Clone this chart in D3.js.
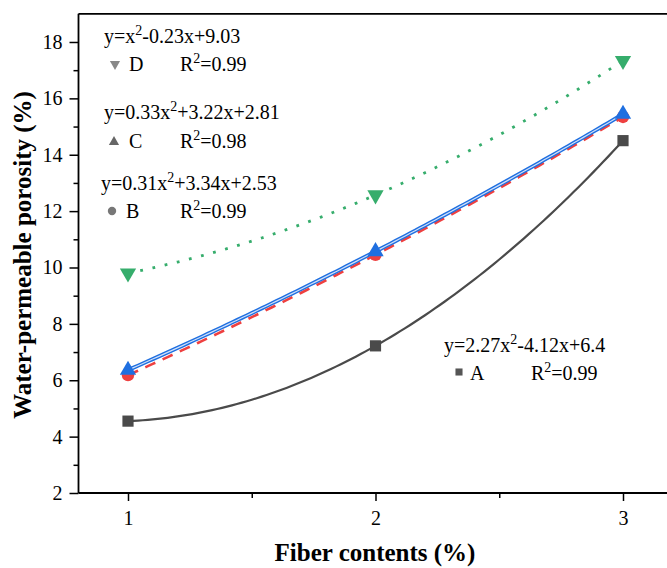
<!DOCTYPE html>
<html><head><meta charset="utf-8">
<script src="https://cdn.jsdelivr.net/npm/d3@7"></script>
<style>body{margin:0;background:#fff}svg{display:block}text{font-family:"Liberation Serif","Times New Roman",serif;fill:#000}</style>
</head><body><svg id="c" width="667" height="568"></svg>
<script>
const fiber = [1, 2, 3];
const seriesA = [4.55, 7.22, 14.5];
const seriesB = [6.18, 10.45, 15.34];
const seriesC = [6.36, 10.57, 15.44];
const seriesD = [9.8, 12.57, 17.34];
const xTicks = [1, 2, 3];
const yTicks = [2, 4, 6, 8, 10, 12, 14, 16, 18];
const legendNames = ["A", "B", "C", "D"];
const equations = [
  ["y=2.27x", "-4.12x+6.4"],
  ["y=0.31x", "+3.34x+2.53"],
  ["y=0.33x", "+3.22x+2.81"],
  ["y=x", "-0.23x+9.03"]
];
const r2 = ["0.99", "0.99", "0.98", "0.99"];

const FONT = '"Liberation Serif","Times New Roman",serif';
const svg = d3.select("#c");
const x = d3.scaleLinear().domain([0.8, 3.2]).range([78.5, 672.5]);
const y = d3.scaleLinear().domain([2, 19]).range([493, 13.8]);

// frame top line
svg.append("line").attr("x1", x(0.8)).attr("x2", x(3.2)).attr("y1", y(19)).attr("y2", y(19))
  .attr("stroke", "#000").attr("stroke-width", 1.8);

// axes
const xAxis = svg.append("g").attr("transform", `translate(0,${y(2)})`)
  .call(d3.axisBottom(x).tickValues(xTicks).tickFormat(d3.format("d")).tickSize(8).tickPadding(10));
svg.append("g").attr("transform", `translate(0,${y(2)})`)
  .call(d3.axisBottom(x).tickValues([1.5, 2.5]).tickFormat("").tickSize(5)).select(".domain").remove();
const yAxis = svg.append("g").attr("transform", `translate(${x(0.8)},0)`)
  .call(d3.axisLeft(y).tickValues(yTicks).tickFormat(d3.format("d")).tickSize(9).tickPadding(7));
svg.append("g").attr("transform", `translate(${x(0.8)},0)`)
  .call(d3.axisLeft(y).tickValues(d3.range(3, 19, 2)).tickFormat("").tickSize(5)).select(".domain").remove();
[xAxis, yAxis].forEach(a => a.attr("font-family", FONT).attr("font-size", 20));
xAxis.select(".domain").attr("d", `M${x(0.8)},0H${x(3.2)}`).attr("stroke-width", 1.8);
yAxis.select(".domain").attr("d", `M0,${y(2)}V${y(19)}`).attr("stroke-width", 1.8);
svg.selectAll(".tick line").attr("stroke-width", 1.5);
svg.selectAll(".tick text").style("font-family", FONT).style("font-size", "20px");

// axis titles
svg.append("text").attr("x", 375).attr("y", 561).attr("text-anchor", "middle")
  .style("font-size", "25px").style("font-weight", "bold").text("Fiber contents (%)");
svg.append("text").attr("transform", "translate(31,255) rotate(-90)").attr("text-anchor", "middle")
  .style("font-size", "25px").style("font-weight", "bold").text("Water-permeable porosity (%)");

// quadratic trend through the three data points
function quadFit(xs, ys) {
  const [x0, x1, x2] = xs, [y0, y1, y2] = ys;
  return t => y0 * (t - x1) * (t - x2) / ((x0 - x1) * (x0 - x2))
            + y1 * (t - x0) * (t - x2) / ((x1 - x0) * (x1 - x2))
            + y2 * (t - x0) * (t - x1) / ((x2 - x0) * (x2 - x1));
}
const samples = d3.range(0, 101).map(i => fiber[0] + (fiber[2] - fiber[0]) * i / 100);
const line = d3.line().x(d => x(d[0])).y(d => y(d[1]));
function fitPath(vals) { const f = quadFit(fiber, vals); return line(samples.map(t => [t, f(t)])); }

const colA = "#4a4a4a", colB = "#ee4040", colC = "#1f6fe0", colD = "#36ad6c";

svg.append("path").attr("d", fitPath(seriesA)).attr("fill", "none").attr("stroke", colA).attr("stroke-width", 2.2);
svg.append("path").attr("d", fitPath(seriesB)).attr("fill", "none").attr("stroke", colB).attr("stroke-width", 2.6).attr("stroke-dasharray", "11,8");
svg.append("path").attr("d", fitPath(seriesC)).attr("fill", "none").attr("stroke", colC).attr("stroke-width", 4);
svg.append("path").attr("d", fitPath(seriesC)).attr("fill", "none").attr("stroke", "#cfe0fa").attr("stroke-width", 1.2);
svg.append("path").attr("d", fitPath(seriesD)).attr("fill", "none").attr("stroke", colD).attr("stroke-width", 2.8).attr("stroke-dasharray", "2.8,9.7");

// markers
const sym = (type, size) => d3.symbol().type(type).size(size)();
function markers(vals, type, size, col, rot) {
  svg.append("g").selectAll("path").data(vals).join("path")
    .attr("d", sym(type, size))
    .attr("transform", (d, i) => `translate(${x(fiber[i])},${y(d)})` + (rot ? ` rotate(${rot})` : ""))
    .attr("fill", col);
}
markers(seriesA, d3.symbolSquare, 125, colA);
markers(seriesB, d3.symbolCircle, 120, colB);
markers(seriesC, d3.symbolTriangle, 115, colC);
markers(seriesD, d3.symbolTriangle, 115, colD, 180);

// legends
const legPos = [
  {ex: 444, ey: 352, sx: 459, sy: 372, nx: 470, rx: 531, ry: 380, type: d3.symbolSquare, size: 50, rot: 0, col: "#555"},
  {ex: 101, ey: 190, sx: 112, sy: 211, nx: 126, rx: 180, ry: 218, type: d3.symbolCircle, size: 55, rot: 0, col: "#777"},
  {ex: 104, ey: 119, sx: 114, sy: 142, nx: 129, rx: 180, ry: 148, type: d3.symbolTriangle, size: 45, rot: 0, col: "#666"},
  {ex: 104, ey: 43, sx: 115, sy: 64, nx: 129, rx: 180, ry: 71, type: d3.symbolTriangle, size: 45, rot: 180, col: "#888"}
];
legPos.forEach((p, i) => {
  const t = svg.append("text").attr("x", p.ex).attr("y", p.ey).style("font-size", "20px");
  t.append("tspan").text(equations[i][0]);
  t.append("tspan").attr("dy", -8).style("font-size", "14px").text("2");
  t.append("tspan").attr("dy", 8).text(equations[i][1]);
  svg.append("path").attr("d", sym(p.type, p.size))
    .attr("transform", `translate(${p.sx},${p.sy}) rotate(${p.rot})`).attr("fill", p.col);
  svg.append("text").attr("x", p.nx).attr("y", p.ry).style("font-size", "20px").text(legendNames[i]);
  const r = svg.append("text").attr("x", p.rx).attr("y", p.ry).style("font-size", "20px");
  r.append("tspan").text("R");
  r.append("tspan").attr("dy", -8).style("font-size", "14px").text("2");
  r.append("tspan").attr("dy", 8).text("=" + r2[i]);
});
</script></body></html>
